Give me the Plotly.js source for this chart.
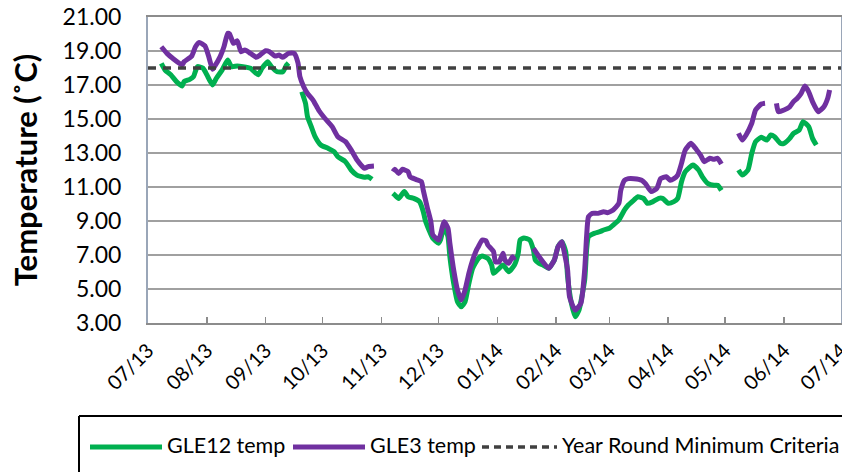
<!DOCTYPE html>
<html>
<head>
<meta charset="utf-8">
<script src="https://cdn.plot.ly/plotly-3.0.1.min.js"></script>
<style>
  html, body { margin: 0; padding: 0; background: #ffffff; }
  #chart { width: 842px; height: 472px; }
</style>
</head>
<body>
<div id="chart"></div>
<script>
// ---- Data ----
var gle12Dates = [
  '2013-07-08','2013-07-10','2013-07-13','2013-07-16','2013-07-19','2013-07-20','2013-07-23','2013-07-25','2013-07-27','2013-07-30',
  '2013-08-01','2013-08-04','2013-08-06','2013-08-09','2013-08-12','2013-08-14','2013-08-17','2013-08-20','2013-08-24','2013-08-28',
  '2013-08-30','2013-09-02','2013-09-04','2013-09-07','2013-09-10','2013-09-12','2013-09-13',
  '2013-09-16',
  '2013-09-20','2013-09-22','2013-09-23','2013-09-25','2013-09-27','2013-09-30','2013-10-04','2013-10-07','2013-10-09','2013-10-13',
  '2013-10-16','2013-10-19','2013-10-23','2013-10-25','2013-10-27',
  '2013-11-01',
  '2013-11-07','2013-11-08','2013-11-10','2013-11-13','2013-11-15','2013-11-18','2013-11-21','2013-11-23','2013-11-24','2013-11-26',
  '2013-11-28','2013-12-01','2013-12-02','2013-12-04','2013-12-06','2013-12-07','2013-12-09','2013-12-11','2013-12-13','2013-12-15',
  '2013-12-17','2013-12-19','2013-12-22','2013-12-24','2013-12-27','2013-12-29','2013-12-30','2014-01-02','2014-01-04','2014-01-07',
  '2014-01-10','2014-01-12','2014-01-13','2014-01-15','2014-01-18','2014-01-20','2014-01-21','2014-01-23','2014-01-25','2014-01-28',
  '2014-01-31','2014-02-02','2014-02-04','2014-02-06','2014-02-07','2014-02-09','2014-02-11','2014-02-13','2014-02-16','2014-02-17',
  '2014-02-18','2014-02-21','2014-02-24','2014-02-26','2014-03-01','2014-03-03','2014-03-06','2014-03-09','2014-03-11','2014-03-14',
  '2014-03-16','2014-03-19','2014-03-21','2014-03-24','2014-03-27','2014-03-29','2014-04-01','2014-04-04','2014-04-06','2014-04-08',
  '2014-04-10','2014-04-14','2014-04-17','2014-04-19','2014-04-22','2014-04-25','2014-04-27','2014-04-29',
  '2014-05-04',
  '2014-05-08','2014-05-10','2014-05-13','2014-05-15','2014-05-17','2014-05-20','2014-05-23','2014-05-25','2014-05-27','2014-05-30',
  '2014-06-01','2014-06-04','2014-06-06','2014-06-09','2014-06-11','2014-06-14','2014-06-16','2014-06-18'
];
var gle12Temps = [
  18.27,17.88,17.6,17.2,16.94,17.2,17.33,17.5,18.08,17.98,
  17.6,17.0,17.4,17.88,18.47,18.08,18.12,18.08,17.98,17.6,
  17.98,18.37,18.08,17.78,17.78,18.18,18.3,
  null,
  16.6,15.9,15.14,14.55,13.96,13.47,13.27,13.08,12.78,12.49,
  12.0,11.7,11.57,11.6,11.45,
  null,
  10.63,10.53,10.33,10.73,10.43,10.33,10.14,9.55,9.06,8.47,
  7.98,7.69,7.88,8.66,8.08,6.9,5.33,4.25,3.96,4.25,
  5.33,6.22,6.8,6.94,6.8,6.41,5.92,6.22,6.41,6.02,
  6.41,7.1,7.88,8.0,7.88,7.3,6.7,6.5,6.41,6.22,
  6.7,7.49,7.78,7.2,5.73,4.16,3.37,3.76,5.53,7.29,
  8.08,8.27,8.37,8.47,8.57,8.76,9.06,9.65,9.94,10.24,
  10.43,10.33,10.04,10.14,10.33,10.33,10.04,10.14,10.33,11.31,
  11.9,12.29,12.0,11.6,11.2,11.1,11.1,10.8,
  null,
  12.0,11.7,12.0,12.98,13.67,13.92,13.76,14.06,13.96,13.57,
  13.57,13.86,14.16,14.35,14.84,14.55,13.86,13.47
];

var gle3Dates = [
  '2013-07-08','2013-07-11','2013-07-14','2013-07-19','2013-07-20','2013-07-24','2013-07-26','2013-07-28','2013-07-31','2013-08-02',
  '2013-08-04','2013-08-05','2013-08-08','2013-08-10','2013-08-12','2013-08-13','2013-08-15','2013-08-17','2013-08-19','2013-08-21',
  '2013-08-24','2013-08-27','2013-08-29','2013-09-01','2013-09-03','2013-09-06','2013-09-08','2013-09-10','2013-09-13','2013-09-16',
  '2013-09-18','2013-09-19','2013-09-21','2013-09-23','2013-09-26','2013-09-29','2013-10-02','2013-10-06','2013-10-09','2013-10-13',
  '2013-10-16','2013-10-19','2013-10-23','2013-10-25','2013-10-28',
  '2013-11-01',
  '2013-11-07','2013-11-08','2013-11-10','2013-11-12','2013-11-15','2013-11-16','2013-11-19','2013-11-22','2013-11-23','2013-11-25',
  '2013-11-27','2013-11-28','2013-12-01','2013-12-02','2013-12-04','2013-12-06','2013-12-07','2013-12-09','2013-12-11','2013-12-13',
  '2013-12-15','2013-12-17','2013-12-19','2013-12-21','2013-12-22','2013-12-24','2013-12-26','2013-12-27','2013-12-30','2013-12-31',
  '2014-01-02','2014-01-04','2014-01-05','2014-01-07','2014-01-09','2014-01-10',
  '2014-01-15',
  '2014-01-20','2014-01-23','2014-01-25','2014-01-28','2014-01-31','2014-02-02','2014-02-04','2014-02-05','2014-02-07','2014-02-08',
  '2014-02-11','2014-02-14','2014-02-16','2014-02-17','2014-02-18','2014-02-20','2014-02-23','2014-02-26','2014-02-28','2014-03-03',
  '2014-03-06','2014-03-07','2014-03-09','2014-03-11','2014-03-14','2014-03-18','2014-03-20','2014-03-23','2014-03-26','2014-03-28',
  '2014-03-31','2014-04-02','2014-04-04','2014-04-06','2014-04-08','2014-04-10','2014-04-13','2014-04-16','2014-04-18','2014-04-20',
  '2014-04-23','2014-04-25','2014-04-27','2014-04-29',
  '2014-05-04',
  '2014-05-08','2014-05-10','2014-05-12','2014-05-15','2014-05-17','2014-05-20','2014-05-22',
  '2014-05-25',
  '2014-05-28','2014-05-29','2014-06-01','2014-06-04','2014-06-06','2014-06-08','2014-06-10','2014-06-12','2014-06-14','2014-06-16',
  '2014-06-19','2014-06-22','2014-06-24','2014-06-25'
];
var gle3Temps = [
  19.25,18.86,18.57,18.18,18.37,18.7,19.25,19.5,19.3,18.67,
  17.92,18.08,18.67,19.25,20.04,20.0,19.45,19.6,18.96,19.06,
  18.86,18.63,18.76,19.02,18.96,18.7,18.76,18.63,18.86,18.86,
  18.3,17.5,16.9,16.5,16.1,15.5,15.06,14.55,13.96,13.67,
  13.18,12.6,12.1,12.2,12.23,
  null,
  11.9,12.04,11.8,12.04,11.9,11.6,11.45,11.31,10.8,9.84,
  8.96,8.18,7.88,8.18,8.96,8.57,7.69,6.12,4.94,4.35,
  4.94,5.92,6.7,7.29,7.49,7.88,7.84,7.59,7.2,6.6,
  6.6,7.1,6.7,6.51,6.9,6.7,
  null,
  7.39,6.9,6.6,6.22,6.7,7.49,7.78,7.29,6.12,4.55,
  3.76,4.16,6.12,8.08,9.25,9.45,9.45,9.55,9.49,9.65,
  10.04,10.8,11.4,11.49,11.49,11.4,11.2,10.73,10.92,11.49,
  11.6,11.4,11.49,11.7,12.39,13.18,13.57,13.18,12.88,12.49,
  12.69,12.63,12.69,12.35,
  null,
  14.16,13.76,14.06,14.75,15.53,15.88,15.92,
  null,
  15.92,15.43,15.53,15.72,16.02,16.22,16.51,16.94,16.6,16.02,
  15.43,15.72,16.22,16.71
];

var criteriaDates = ['2013-07-01', '2014-07-01'];
var criteriaTemps = [18, 18];

var tickDates = ['2013-07-01','2013-08-01','2013-09-01','2013-10-01','2013-11-01','2013-12-01',
                 '2014-01-01','2014-02-01','2014-03-01','2014-04-01','2014-05-01','2014-06-01','2014-07-01'];
var tickLabels = ['07/13','08/13','09/13','10/13','11/13','12/13',
                  '01/14','02/14','03/14','04/14','05/14','06/14','07/14'];

var seriesNames = ['GLE12 temp', 'GLE3 temp', 'Year Round Minimum Criteria'];

// ---- Styling ----
var GREEN = '#00B050', PURPLE = '#7030A0', DASHC = '#404040';
var FONT = 'Lato, "Open Sans", "Liberation Sans", sans-serif';

var W = 842, H = 472;
var M = {l: 148, r: 1, t: 17, b: 149};
var PW = W - M.l - M.r, PH = H - M.t - M.b;
function px2x(px) { return (px - M.l) / PW; }
function px2y(py) { return (H - M.b - py) / PH; }

var traces = [
  {x: gle12Dates, y: gle12Temps, name: seriesNames[0], type: 'scatter', mode: 'lines',
   connectgaps: false, line: {color: GREEN, width: 5, shape: 'spline', smoothing: 0.5}},
  {x: gle3Dates, y: gle3Temps, name: seriesNames[1], type: 'scatter', mode: 'lines',
   connectgaps: false, line: {color: PURPLE, width: 5, shape: 'spline', smoothing: 0.5}},
  {x: criteriaDates, y: criteriaTemps, name: seriesNames[2], type: 'scatter', mode: 'lines',
   line: {color: DASHC, width: 3.5, dash: '8px,7px'}}
];

// manual legend (the reference legend is cropped by the image edge)
var legY = 447;
var items = [
  {x0: 90, x1: 162, tx: 165, color: GREEN, width: 5, dash: 'solid'},
  {x0: 293, x1: 365, tx: 368, color: PURPLE, width: 5, dash: 'solid'},
  {x0: 482, x1: 557, tx: 560, color: DASHC, width: 3.5, dash: '7px,5px'}
];
var shapes = [
  {type: 'line', xref: 'paper', yref: 'paper', x0: px2x(79), x1: px2x(860), y0: px2y(416), y1: px2y(416),
   line: {color: '#000000', width: 2}},
  {type: 'line', xref: 'paper', yref: 'paper', x0: px2x(79), x1: px2x(79), y0: px2y(416), y1: px2y(490),
   line: {color: '#000000', width: 2}}
];
var annotations = [];
items.forEach(function (it, i) {
  shapes.push({type: 'line', xref: 'paper', yref: 'paper', x0: px2x(it.x0), x1: px2x(it.x1),
               y0: px2y(legY), y1: px2y(legY), line: {color: it.color, width: it.width, dash: it.dash}});
  annotations.push({xref: 'paper', yref: 'paper', x: px2x(it.tx), y: px2y(legY - 2), xanchor: 'left', yanchor: 'middle',
                    text: seriesNames[i], showarrow: false, font: {family: FONT, size: 21.5, color: '#000000'}});
});

var layout = {
  width: W, height: H,
  margin: M,
  paper_bgcolor: '#ffffff', plot_bgcolor: '#ffffff',
  showlegend: false,
  font: {family: FONT, color: '#000000'},
  xaxis: {
    type: 'date',
    range: ['2013-07-01', '2014-07-01'],
    tickmode: 'array', tickvals: tickDates, ticktext: tickLabels,
    tickangle: -45,
    ticks: 'inside', ticklen: 6, tickwidth: 1.5, tickcolor: '#8c8c8c',
    ticklabelstandoff: 6,
    ticklabeloverflow: 'allow',
    tickfont: {family: FONT, size: 20, color: '#000000'},
    showgrid: false, zeroline: false,
    showline: true, linecolor: '#8c8c8c', linewidth: 2, mirror: true,
    fixedrange: true
  },
  yaxis: {
    range: [3, 21], tick0: 3, dtick: 2, tickformat: '.2f',
    ticks: '', ticklabelstandoff: 20,
    tickfont: {family: FONT, size: 23, color: '#000000'},
    showgrid: true, gridcolor: '#a0a0a0', gridwidth: 2,
    zeroline: false,
    showline: true, linecolor: '#9aa6b8', linewidth: 2, mirror: true,
    title: {text: 'Temperature (˚C)', standoff: 16,
            font: {family: FONT, size: 31, color: '#000000', weight: 'bold'}},
    fixedrange: true
  },
  shapes: shapes,
  annotations: annotations
};

Plotly.newPlot('chart', traces, layout, {displayModeBar: false, staticPlot: true});
</script>
</body>
</html>
